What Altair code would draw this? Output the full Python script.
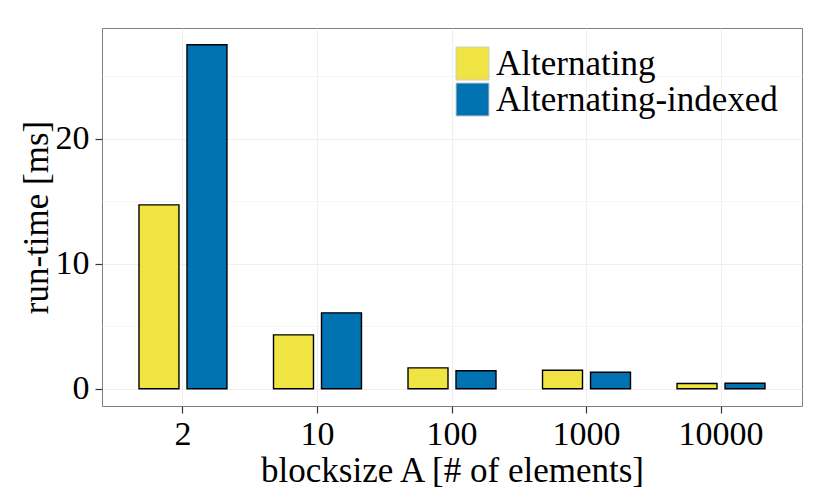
import altair as alt
import pandas as pd

categories = ["2", "10", "100", "1000", "10000"]
alternating = [14.72, 4.32, 1.68, 1.49, 0.43]
alternating_indexed = [27.54, 6.08, 1.44, 1.33, 0.45]
series = ["Alternating", "Alternating-indexed"]
colors = ["#F0E442", "#0072B2"]
y_ticks = [0, 5, 10, 15, 20, 25]

rows = []
for c, a, b in zip(categories, alternating, alternating_indexed):
    rows.append({"blocksize": c, "variant": series[0], "runtime": a})
    rows.append({"blocksize": c, "variant": series[1], "runtime": b})
df = pd.DataFrame(rows)

FONT = "Liberation Serif"
FS = 34
TFS = 35

chart = alt.Chart(df).mark_bar(stroke="black", strokeWidth=1.4).encode(
    x=alt.X(
        "blocksize:N",
        sort=categories,
        title="blocksize A [# of elements]",
        scale=alt.Scale(paddingInner=0.346, paddingOuter=0.275),
        axis=alt.Axis(
            labelAngle=0, grid=True, bandPosition=0.5, domain=False,
            tickSize=7, tickColor="#333333", tickWidth=1.2,
            labelFont=FONT, labelFontSize=FS, labelColor="black", labelPadding=4,
            titleFont=FONT, titleFontSize=TFS, titleFontWeight="normal",
            titleColor="black", titlePadding=2,
            gridColor="#EFEFEF",
        ),
    ),
    xOffset=alt.XOffset(
        "variant:N", sort=series,
        scale=alt.Scale(paddingInner=0.167, paddingOuter=0),
    ),
    y=alt.Y(
        "runtime:Q",
        title="run-time [ms]",
        scale=alt.Scale(domain=[-1.375, 28.875], nice=False, zero=False),
        axis=alt.Axis(
            values=y_ticks, domain=False,
            labelExpr="datum.value % 10 === 0 ? datum.label : ''",
            tickColor={"condition": {"test": "datum.value % 10 === 0", "value": "#333333"}, "value": "transparent"},
            gridColor={"condition": {"test": "datum.value % 10 === 0", "value": "#EFEFEF"}, "value": "#F5F5F5"},
            tickSize=7, tickWidth=1.2,
            labelFont=FONT, labelFontSize=FS, labelColor="black", labelPadding=6,
            titleFont=FONT, titleFontSize=TFS, titleFontWeight="normal",
            titleColor="black", titlePadding=1,
        ),
    ),
    y2=alt.datum(0),
    color=alt.Color(
        "variant:N",
        scale=alt.Scale(domain=series, range=colors),
        legend=alt.Legend(
            title=None, orient="none", legendX=353, legendY=18,
            symbolType="square", symbolSize=1089,
            symbolStrokeColor="#CCCCCC", symbolStrokeWidth=1,
            labelFont=FONT, labelFontSize=TFS, labelColor="black",
            labelOffset=6, rowPadding=-3, padding=0, labelLimit=0,
        ),
    ),
).properties(
    width=700,
    height=378,
    padding={"left": 94, "top": 20, "right": 20, "bottom": 84},
    autosize=alt.AutoSizeParams(type="none"),
).configure_view(
    stroke="#7F7F7F", strokeWidth=1
)

chart.save("out.html", embed_options={"renderer": "svg", "actions": False})
